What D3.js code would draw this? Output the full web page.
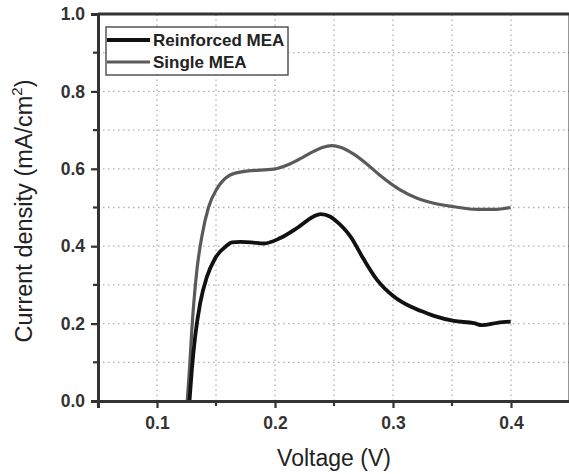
<!DOCTYPE html>
<html><head><meta charset="utf-8">
<script src="https://cdn.jsdelivr.net/npm/d3@7"></script>
<style>body{margin:0;background:#fff;} svg{display:block;font-family:Arial,"Liberation Sans",sans-serif;}</style>
</head><body><svg id="c" width="569" height="474"></svg>
<script>
const seriesNames = ["Reinforced MEA", "Single MEA"];
const seriesColors = ["#111111", "#5a5a5a"];
const reinforcedV = [0.1275,0.1295,0.1323,0.1366,0.1423,0.1493,0.159,0.1635,0.1705,0.1800,0.1906,0.2045,0.2187,0.2328,0.2385,0.2470,0.2526,0.2580,0.2640,0.2752,0.2865,0.3007,0.3148,0.3233,0.3347,0.3516,0.3686,0.3756,0.3884,0.3997];
const reinforcedJ = [0,0.08,0.166,0.253,0.321,0.369,0.401,0.410,0.411,0.410,0.407,0.421,0.447,0.477,0.483,0.476,0.463,0.447,0.425,0.366,0.313,0.270,0.244,0.233,0.220,0.207,0.201,0.196,0.202,0.205];
const singleV = [0.1256,0.1275,0.1295,0.1338,0.138,0.1436,0.1507,0.1555,0.162,0.176,0.1988,0.213,0.2243,0.2328,0.2400,0.2483,0.2560,0.2667,0.278,0.2894,0.3064,0.3205,0.3347,0.3516,0.3714,0.3856,0.3997];
const singleJ = [0,0.08,0.183,0.338,0.425,0.500,0.548,0.568,0.584,0.594,0.599,0.613,0.631,0.645,0.655,0.660,0.655,0.638,0.612,0.582,0.545,0.524,0.511,0.502,0.495,0.495,0.500];
const xMajor = [0.1,0.2,0.3,0.4];
const xMinor = [0.05,0.15,0.25,0.35];
const yMajor = [0.0,0.2,0.4,0.6,0.8,1.0];
const yMinor = [0.1,0.3,0.5,0.7,0.9];

const svg = d3.select("#c");
const x = d3.scaleLinear().domain([0.05,0.45]).range([98,570]);
const y = d3.scaleLinear().domain([0,1]).range([401,14]);

// grid
const grid = svg.append("g").attr("stroke","#b0b0b0").attr("stroke-width",1.3).attr("stroke-dasharray","1.5,3.5");
xMajor.concat(xMinor).forEach(v=>{ if(v>0.05) grid.append("line").attr("x1",x(v)).attr("x2",x(v)).attr("y1",y(0)).attr("y2",y(1)); });
yMajor.concat(yMinor).forEach(v=>{ if(v>0 && v<1) grid.append("line").attr("x1",x(0.05)).attr("x2",x(0.45)).attr("y1",y(v)).attr("y2",y(v)); });

// curves
const line = d3.line().x(d=>x(d[0])).y(d=>y(d[1])).curve(d3.curveMonotoneX);
const data = [d3.zip(reinforcedV, reinforcedJ), d3.zip(singleV, singleJ)];
[1,0].forEach(i=>{
  svg.append("path").datum(data[i]).attr("d",line).attr("fill","none")
    .attr("stroke",seriesColors[i]).attr("stroke-width", i===0?3.8:3.2).attr("stroke-linejoin","round");
});

// axes
const tickFont = g => g.selectAll("text").attr("font-size","17.5px").attr("font-weight","bold").attr("fill","#333").attr("font-family","Arial,'Liberation Sans',sans-serif");
const xAx = svg.append("g").attr("transform",`translate(0,${y(0)})`)
  .call(d3.axisBottom(x).tickValues(xMajor).tickFormat(d3.format(".1f")).tickSize(7).tickPadding(8));
const yAx = svg.append("g").attr("transform",`translate(${x(0.05)},0)`)
  .call(d3.axisLeft(y).tickValues(yMajor).tickFormat(d3.format(".1f")).tickSize(7).tickPadding(6));
[xAx,yAx].forEach(a=>{ a.select(".domain").attr("stroke","#333").attr("stroke-width",3); a.selectAll(".tick line").attr("stroke","#333").attr("stroke-width",2.2); tickFont(a); });
xAx.selectAll(".tick text").attr("dy","0.75em");
// minor ticks
xMinor.forEach(v=>svg.append("line").attr("x1",x(v)).attr("x2",x(v)).attr("y1",y(0)).attr("y2",y(0)+5).attr("stroke","#333").attr("stroke-width",2.2));
yMinor.forEach(v=>svg.append("line").attr("x1",x(0.05)).attr("x2",x(0.05)-5).attr("y1",y(v)).attr("y2",y(v)).attr("stroke","#333").attr("stroke-width",2.2));
// frame top & right
svg.append("line").attr("x1",x(0.05)).attr("x2",x(0.45)).attr("y1",y(1)).attr("y2",y(1)).attr("stroke","#333").attr("stroke-width",3);
svg.append("line").attr("x1",x(0.45)).attr("x2",x(0.45)).attr("y1",y(1)).attr("y2",y(0)).attr("stroke","#333").attr("stroke-width",3);

// axis titles
svg.append("text").attr("x",(x(0.05)+x(0.45))/2).attr("y",466).attr("text-anchor","middle")
  .attr("font-size","23px").attr("fill","#222").text("Voltage (V)");
const yt = svg.append("text").attr("transform",`translate(32,211) rotate(-90)`).attr("text-anchor","middle")
  .attr("font-size","23.5px").attr("fill","#222");
yt.append("tspan").text("Current density (mA/cm");
yt.append("tspan").attr("font-size","15px").attr("dy","-10").text("2");
yt.append("tspan").attr("dy","10").text(")");

// legend
const lg = svg.append("g");
lg.append("rect").attr("x",106).attr("y",27).attr("width",182).attr("height",48).attr("fill","#fff").attr("stroke","#555").attr("stroke-width",1.5);
seriesNames.forEach((n,i)=>{
  const yy = 40 + i*22;
  lg.append("line").attr("x1",107).attr("x2",150).attr("y1",yy).attr("y2",yy).attr("stroke",seriesColors[i]).attr("stroke-width",i===0?3.8:3.2);
  lg.append("text").attr("x",153).attr("y",yy+6).attr("font-size","17px").attr("font-weight","bold").attr("fill","#222").text(n);
});
</script></body></html>
